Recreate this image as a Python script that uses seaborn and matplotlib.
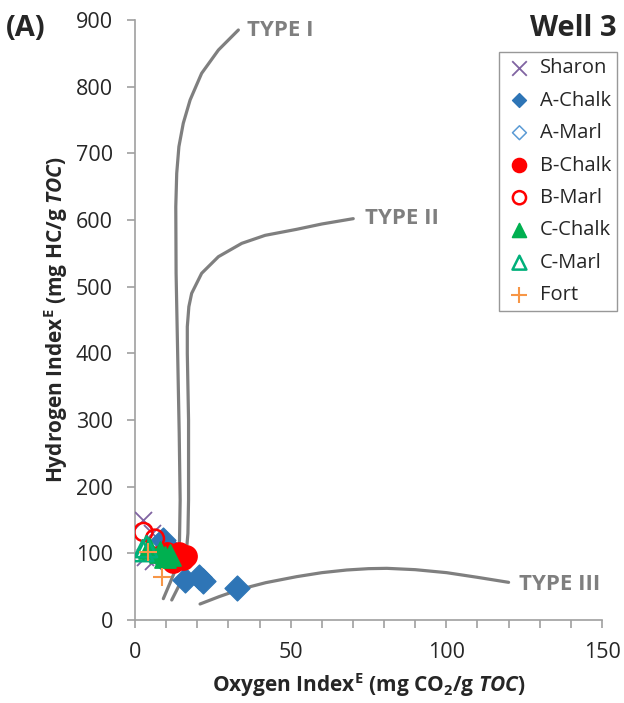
import numpy as np
import pandas as pd
import matplotlib
matplotlib.use("Agg")
import matplotlib.pyplot as plt
import seaborn as sns

# ==========================================
# Data
# ==========================================

groups = ["Sharon", "A-Chalk", "A-Marl", "B-Chalk", "B-Marl", "C-Chalk", "C-Marl", "Fort"]

sharon_oi = [2.7, 5.4, 3.2, 5.9]
sharon_hi = [150, 130, 95, 88]

a_chalk_oi = [9.1, 11.0, 16.0, 20.5, 22.0, 32.7]
a_chalk_hi = [120, 108, 60, 65, 58, 48]

a_marl_oi = []
a_marl_hi = []

b_chalk_oi = [10.2, 12.3, 15.5, 14.0, 16.5]
b_chalk_hi = [100, 87, 92, 100, 96]

b_marl_oi = [2.7, 6.4]
b_marl_hi = [132, 122]

c_chalk_oi = [4.5, 8.0, 11.2, 9.5]
c_chalk_hi = [108, 102, 98, 95]

c_marl_oi = [3.7, 2.5]
c_marl_hi = [110, 104]

fort_oi = [4.3, 8.6]
fort_hi = [102, 65]

# kerogen type reference curves
type1_oi = [9.1, 11.2, 13.4, 14.3, 14.5, 14.2, 13.7, 13.2, 13.1, 13.4, 14.1, 15.5, 17.7, 21.4, 26.8, 33.2]
type1_hi = [32, 55, 80, 120, 180, 280, 400, 520, 620, 670, 710, 745, 780, 820, 855, 885]

type2_oi = [11.8, 14.5, 16.1, 17.0, 17.2, 17.2, 16.8, 16.8, 17.3, 18.2, 21.4, 26.8, 34.3, 41.8, 51.9, 60.0, 70.1]
type2_hi = [30, 55, 80, 130, 180, 300, 400, 440, 470, 490, 520, 545, 565, 577, 586, 594, 602]

type3_oi = [20.9, 27.0, 33.7, 42.0, 51.9, 60.0, 68.0, 75.0, 80.9, 90.0, 100.1, 110.0, 120.0]
type3_hi = [24, 35, 46, 56, 65, 71, 75, 77, 77.5, 75.5, 71, 64, 56.5]

# ==========================================
# Styling
# ==========================================

sns.set_style("ticks")
plt.rcParams["font.family"] = ["Open Sans", "DejaVu Sans"]
plt.rcParams["mathtext.fontset"] = "custom"
plt.rcParams["mathtext.rm"] = "Open Sans:bold"
plt.rcParams["mathtext.it"] = "Open Sans:bold:italic"
plt.rcParams["mathtext.bf"] = "Open Sans:bold"

axis_grey = "#a0a0a0"
curve_grey = "#7f7f7f"

# marker style, plot size, legend size
series = {
    "Sharon": (sharon_oi, sharon_hi, dict(marker="x", color="#8064a2", s=150, linewidths=1.3), 110),
    "A-Chalk": (a_chalk_oi, a_chalk_hi, dict(marker="D", color="#2e75b6", s=160, edgecolor="#2e75b6"), 50),
    "A-Marl": (a_marl_oi, a_marl_hi, dict(marker="D", facecolor="none", edgecolor="#5b9bd5", s=160, linewidth=1.1), 50),
    "B-Chalk": (b_chalk_oi, b_chalk_hi, dict(marker="o", color="#ff0000", s=230, edgecolor="#ff0000"), 100),
    "B-Marl": (b_marl_oi, b_marl_hi, dict(marker="o", facecolor="none", edgecolor="#ff0000", s=170, linewidth=1.8), 90),
    "C-Chalk": (c_chalk_oi, c_chalk_hi, dict(marker="^", color="#00b050", s=230, edgecolor="#00b050"), 100),
    "C-Marl": (c_marl_oi, c_marl_hi, dict(marker="^", facecolor="none", edgecolor="#00b07a", s=230, linewidth=1.8), 100),
    "Fort": (fort_oi, fort_hi, dict(marker="+", color="#f79646", s=170, linewidths=1.5), 120),
}

# ==========================================
# Plot
# ==========================================

fig = plt.figure(figsize=(6.24, 7.03), dpi=100)
ax = fig.add_axes([135 / 624, 1 - 620 / 703, 467 / 624, 600 / 703])

for oi, hi in [(type1_oi, type1_hi), (type2_oi, type2_hi), (type3_oi, type3_hi)]:
    sns.lineplot(x=oi, y=hi, sort=False, estimator=None, color=curve_grey,
                 linewidth=2.3, ax=ax, zorder=1)

for name in groups:
    oi, hi, kw, _ = series[name]
    if len(oi) == 0:
        # no samples, keep the legend entry
        ax.scatter([], [], label=name, **kw)
        continue
    df = pd.DataFrame({"OI": oi, "HI": hi})
    sns.scatterplot(data=df, x="OI", y="HI", ax=ax, label=name, zorder=3, **kw)

label_kw = dict(color=curve_grey, fontsize=16, fontweight="bold", va="center")
ax.text(36, 885, "TYPE I", **label_kw)
ax.text(74, 603, "TYPE II", **label_kw)
ax.text(123.5, 54, "TYPE III", **label_kw)

ax.set_xlim(0, 150)
ax.set_ylim(0, 900)
ax.set_xticks([0, 50, 100, 150])
ax.set_xticks(np.arange(0, 151, 10), minor=True)
ax.set_yticks(np.arange(0, 901, 100))

for side in ["top", "right"]:
    ax.spines[side].set_visible(False)
for side in ["left", "bottom"]:
    ax.spines[side].set_color(axis_grey)
    ax.spines[side].set_linewidth(1.2)

ax.tick_params(axis="both", which="both", direction="out", length=6, width=1.2,
               color=axis_grey, labelsize=15.5, labelcolor="#262626", pad=10)

ax.set_xlabel("Oxygen Index$^\\mathrm{E}$ (mg CO$_\\mathrm{2}$/g $\\mathit{TOC}$)",
              fontsize=15, fontweight="bold", labelpad=6)
ax.set_ylabel("Hydrogen Index$^\\mathrm{E}$ (mg HC/g $\\mathit{TOC}$)",
              fontsize=15, fontweight="bold", labelpad=4)

leg = ax.legend(loc="upper right", bbox_to_anchor=(617 / 624, 1 - 52 / 703),
                bbox_transform=fig.transFigure, borderaxespad=0, frameon=True,
                fancybox=False, edgecolor=curve_grey, fontsize=14.5,
                handletextpad=0.3, handlelength=1.4, labelspacing=0.62,
                borderpad=0.3)
leg.get_frame().set_linewidth(1.0)
for handle, name in zip(leg.legend_handles, groups):
    handle.set_sizes([series[name][3]])

fig.text(6 / 624, 1 - 28 / 703, "(A)", fontsize=21, fontweight="bold", va="center")
fig.text(617 / 624, 1 - 28 / 703, "Well 3", fontsize=21, fontweight="bold", va="center", ha="right")

fig.savefig("out.png", dpi=100)
